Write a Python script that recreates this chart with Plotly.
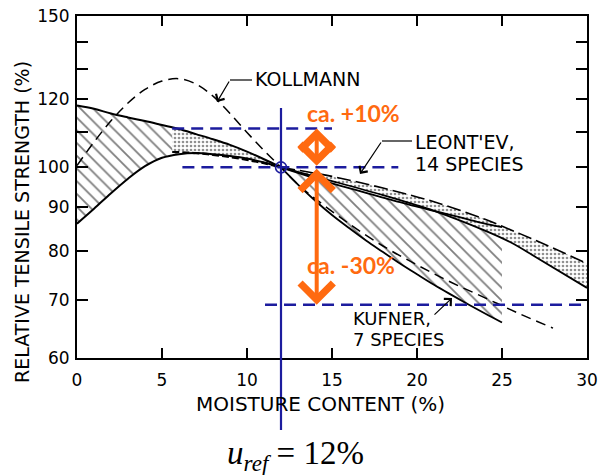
import math
import plotly.graph_objects as go

# ---------------- data ----------------
# Kufner, 7 species: hatched band
kuf_left_x = [0, 1, 2, 3, 4, 5, 6, 7, 8, 9, 10, 11, 12]
kuf_left_upper = [118, 117, 115.5, 114.3, 113.2, 112, 110.8, 109.3, 107.8, 106.2, 104.3, 102.2, 100]
kuf_left_lower = [86, 89.5, 93.3, 97, 100.3, 102.6, 103.6, 103.9, 103.6, 103.1, 102.4, 101.3, 100]

kuf_right_x = [12, 13, 14, 15, 16, 17, 18, 19, 20, 21, 22, 23, 24, 25]
kuf_right_upper = [100, 98.5, 97.1, 95.8, 94.6, 93.4, 92.2, 91.1, 90.0, 89.0, 88.0, 87.0, 86.0, 85.2]
kuf_right_lower = [100, 95.5, 91.5, 88, 85, 82.2, 79.7, 77.3, 75.1, 73, 71.1, 69.3, 67.6, 66]

# Leont'ev, 14 species: dotted band
leo_left_x = [5.6, 7, 8, 9, 10, 11, 12]
leo_left_upper = [111.2, 109.3, 107.8, 106.2, 104.3, 102.2, 100]
leo_left_lower = [104.2, 103.9, 103.4, 102.8, 102.0, 101.1, 100]

leo_right_x = [12, 15, 18, 21, 24, 25.5, 27, 30]
leo_right_upper = [100, 97.6, 94.6, 91.2, 87.0, 84.6, 82.2, 77.3]
leo_right_lower = [100, 96.4, 92.8, 89.0, 84.4, 81.8, 78.6, 72.4]

# Kollmann: dashed curve
kollmann_x = [0, 1, 2, 3, 4, 5, 6, 7, 8, 9, 10, 11, 12, 13, 14, 16, 18, 20, 22, 24, 26, 28]
kollmann_y = [100.5, 107, 113.3, 118.8, 123.2, 126, 126.8, 125, 121, 115.5, 109.8, 104.6, 100,
              95.5, 92, 86, 81, 77, 73.5, 70.5, 67.6, 65]

# reference moisture and guide levels
u_ref = 12
ref_point_y = 100
guide_levels = [111, 100, 69.2]
guide_x_start = [5.6, 6.2, 11.06]
guide_x_end = [15.0, 18.9, 29.8]
arrow_x = 14.1

x_ticks = [0, 5, 10, 15, 20, 25, 30]
y_ticks = [60, 70, 80, 90, 100, 110, 120, 130, 140, 150]
y_tick_text = ["60", "70", "80", "90", "100", " ", "120", " ", " ", "150"]

# ---------------- styling helpers ----------------
NAVY = "#1c1c9e"
ORANGE = "#ff6a10"
FONT = "DejaVu Sans"
L, R, T, B = 77, 587, 16, 358


def pxx(xp):
    return (xp - L) / (R - L)


def pxy(yp):
    return (B - yp) / (B - T)


fig = go.Figure()

# hatched Kufner bands
for xs, up, lo in [(kuf_left_x, kuf_left_upper, kuf_left_lower),
                   (kuf_right_x, kuf_right_upper, kuf_right_lower)]:
    fig.add_trace(go.Scatter(
        x=xs + xs[::-1], y=up + lo[::-1], fill="toself", mode="none",
        fillcolor="rgba(0,0,0,0)",
        fillpattern=dict(shape="\\", fgcolor="black", bgcolor="rgba(0,0,0,0)",
                         size=9, solidity=0.2),
        hoverinfo="skip"))

# dotted Leont'ev bands
for xs, up, lo in [(leo_left_x, leo_left_upper, leo_left_lower),
                   (leo_right_x, leo_right_upper, leo_right_lower)]:
    fig.add_trace(go.Scatter(
        x=xs + xs[::-1], y=up + lo[::-1], fill="toself", mode="none",
        fillcolor="rgba(0,0,0,0)",
        fillpattern=dict(shape=".", fgcolor="#222222", bgcolor="white",
                         size=4, solidity=0.35),
        hoverinfo="skip"))

line_black = dict(color="black", width=1.8)
# Kufner boundaries
fig.add_trace(go.Scatter(x=kuf_left_x, y=kuf_left_upper, mode="lines", line_shape="spline",
                         line=dict(color="black", width=2)))
fig.add_trace(go.Scatter(x=kuf_left_x, y=kuf_left_lower, mode="lines", line_shape="spline",
                         line=dict(color="black", width=2)))
fig.add_trace(go.Scatter(x=kuf_right_x, y=kuf_right_upper, mode="lines", line_shape="spline",
                         line=line_black))
fig.add_trace(go.Scatter(x=kuf_right_x, y=kuf_right_lower, mode="lines", line_shape="spline",
                         line=line_black))
# Leont'ev boundaries
fig.add_trace(go.Scatter(x=leo_left_x, y=leo_left_lower, mode="lines", line_shape="spline",
                         line=dict(color="black", width=2.2, dash="7px,3px")))
fig.add_trace(go.Scatter(x=leo_right_x, y=leo_right_upper, mode="lines", line_shape="spline",
                         line=dict(color="black", width=1.6, dash="14px,5px")))
fig.add_trace(go.Scatter(x=leo_right_x, y=leo_right_lower, mode="lines", line_shape="spline",
                         line=line_black))
# Kollmann
fig.add_trace(go.Scatter(x=kollmann_x, y=kollmann_y, mode="lines", line_shape="spline",
                         line=dict(color="black", width=1.5, dash="10px,6px")))

# blue guide lines
for lvl, xs0, xs1 in zip(guide_levels, guide_x_start, guide_x_end):
    fig.add_trace(go.Scatter(x=[xs0, xs1], y=[lvl, lvl], mode="lines",
                             line=dict(color=NAVY, width=2.5, dash="12px,7px")))

# reference point
fig.add_trace(go.Scatter(x=[u_ref], y=[ref_point_y], mode="markers",
                         marker=dict(symbol="circle-open", size=11, color=NAVY,
                                     line=dict(width=1.6, color=NAVY))))

# vertical reference line (extends below the axis)
fig.add_shape(type="line", xref="x", yref="paper", x0=u_ref, x1=u_ref,
              y0=pxy(430), y1=pxy(108), line=dict(color=NAVY, width=2.2), layer="above")

# leader lines
for (x0, y0, x1, y1) in [(252, 80, 230, 80), (412, 141, 382, 141)]:
    fig.add_shape(type="line", xref="paper", yref="paper", x0=pxx(x0), y0=pxy(y0),
                  x1=pxx(x1), y1=pxy(y1), line=dict(color="black", width=1.2))

ann = []
for (hx, hy, tx, ty) in [(217, 102, 230, 80), (360, 174, 382, 141), (452, 298, 433, 316)]:
    ann.append(dict(xref="paper", yref="paper", x=pxx(hx), y=pxy(hy), text="",
                    showarrow=True, ax=tx - hx, ay=ty - hy, arrowhead=4, arrowsize=1.6,
                    arrowwidth=1.2, arrowcolor="black"))


def label(text, xp, yp, size=18, xanchor="left", color="black", family=FONT, bold=False, angle=0):
    if bold:
        text = "<b>" + text + "</b>"
    ann.append(dict(xref="paper", yref="paper", x=pxx(xp), y=pxy(yp), text=text,
                    showarrow=False, xanchor=xanchor, yanchor="middle", textangle=angle,
                    font=dict(family=family, size=size, color=color)))


label("KOLLMANN", 253, 79, size=19)
label("LEONT'EV,", 413, 142, size=19)
label("14 SPECIES", 413, 164, size=19)
label("KUFNER,", 351, 318)
label("7 SPECIES", 351, 339)
label("ca. +10%", 305, 113, size=23, color=ORANGE, family="Lato", bold=True)
label("ca. -30%", 305, 265, size=23, color=ORANGE, family="Lato", bold=True)
label("RELATIVE TENSILE STRENGTH (%)", 22, 222, size=19, xanchor="center", angle=-90)
label("MOISTURE CONTENT (%)", 320, 404, size=20, xanchor="center")
label("<i>u</i><sub><i>ref</i></sub> = 12%", 295, 455, size=33, xanchor="center",
      family="Liberation Serif")

# orange arrows (drawn on top of the labels)
for y0, y1 in [(guide_levels[1], guide_levels[0]), (guide_levels[1], guide_levels[2])]:
    ann.append(dict(xref="x", yref="y", axref="x", ayref="y",
                    x=arrow_x, y=math.log10(y1), ax=arrow_x, ay=math.log10(y0), text="",
                    showarrow=True, arrowside="end+start", arrowhead=4, startarrowhead=4,
                    arrowsize=1.6, startarrowsize=1.6, arrowwidth=4, arrowcolor=ORANGE))

fig.update_layout(
    width=600, height=475,
    margin=dict(l=L, r=600 - R, t=T, b=475 - B, autoexpand=False),
    paper_bgcolor="white", plot_bgcolor="white",
    showlegend=False,
    annotations=ann,
    xaxis=dict(range=[0, 30], tickvals=x_ticks, ticks="inside", ticklen=10, tickwidth=1.5,
               tickcolor="black", showline=True, linecolor="black", linewidth=2,
               mirror="ticks", showgrid=False, zeroline=False, ticklabelstandoff=6,
               tickfont=dict(family=FONT, size=17, color="black")),
    yaxis=dict(type="log", range=[math.log10(60), math.log10(150)], tickvals=y_ticks,
               ticktext=y_tick_text, ticks="inside", ticklen=11, tickwidth=1.5,
               tickcolor="black", showline=True, linecolor="black", linewidth=2,
               mirror="ticks", showgrid=False, zeroline=False, ticklabelstandoff=2,
               tickfont=dict(family=FONT, size=17, color="black")),
)

fig.write_html("out.html", config={"displayModeBar": False},
               post_script="document.body.style.margin='0px';document.body.style.overflow='hidden';")
